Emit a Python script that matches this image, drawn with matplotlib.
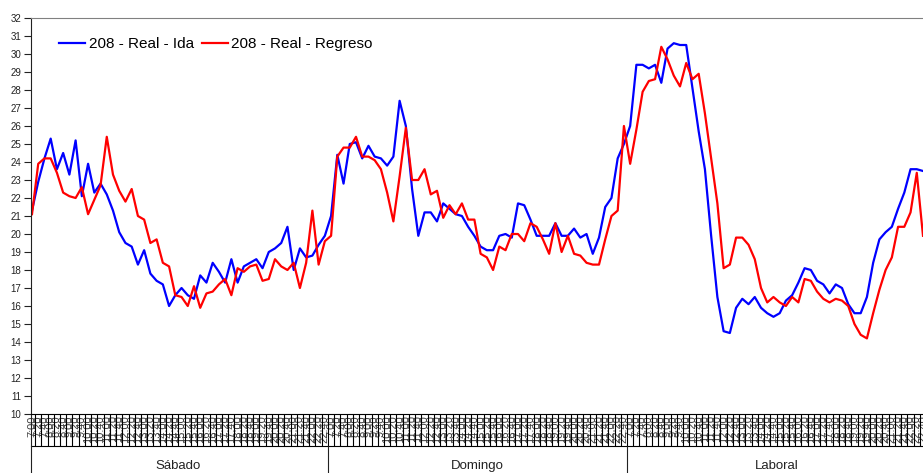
import numpy as np
import matplotlib
matplotlib.use('Agg')
import matplotlib.pyplot as plt
import matplotlib.transforms as mtransforms
from matplotlib.lines import Line2D

plt.rcParams['font.family'] = ['Liberation Sans', 'DejaVu Sans']

days = ['Sábado', 'Domingo', 'Laboral']
# time slots of 20 minutes, 7:00 .. 22:40
times = ['%d:%02d' % (7 + m // 60, m % 60) for m in range(0, 16 * 60, 20)]

ida_sabado = [21.3, 22.9, 24.2, 25.3, 23.6, 24.5, 23.3, 25.2, 22.1, 23.9, 22.3, 22.8,
              22.2, 21.3, 20.1, 19.5, 19.3, 18.3, 19.1, 17.8, 17.4, 17.2, 16.0, 16.6,
              17.0, 16.6, 16.4, 17.7, 17.3, 18.4, 17.9, 17.3, 18.6, 17.3, 18.2, 18.4,
              18.6, 18.1, 19.0, 19.2, 19.5, 20.4, 18.0, 19.2, 18.7, 18.8, 19.4, 19.9]
ida_domingo = [21.0, 24.4, 22.8, 25.0, 25.1, 24.2, 24.9, 24.3, 24.2, 23.8, 24.3, 27.4,
               26.0, 22.5, 19.9, 21.2, 21.2, 20.7, 21.7, 21.4, 21.1, 21.0, 20.4, 19.9,
               19.3, 19.1, 19.1, 19.9, 20.0, 19.8, 21.7, 21.6, 20.8, 19.9, 19.9, 19.9,
               20.6, 19.9, 19.9, 20.3, 19.8, 20.0, 18.9, 19.8, 21.5, 22.0, 24.2, 25.0]
ida_laboral = [26.0, 29.4, 29.4, 29.2, 29.4, 28.4, 30.3, 30.6, 30.5, 30.5, 28.1, 25.7,
               23.6, 19.9, 16.5, 14.6, 14.5, 15.9, 16.4, 16.1, 16.5, 15.9, 15.6, 15.4,
               15.6, 16.3, 16.6, 17.3, 18.1, 18.0, 17.4, 17.2, 16.7, 17.2, 17.0, 16.1,
               15.6, 15.6, 16.5, 18.4, 19.7, 20.1, 20.4, 21.4, 22.3, 23.6, 23.6, 23.5]

regreso_sabado = [21.1, 23.9, 24.2, 24.2, 23.4, 22.3, 22.1, 22.0, 22.6, 21.1, 21.9, 22.7,
                  25.4, 23.3, 22.4, 21.8, 22.5, 21.0, 20.8, 19.5, 19.7, 18.4, 18.2, 16.6,
                  16.5, 16.0, 17.1, 15.9, 16.7, 16.8, 17.2, 17.5, 16.6, 18.1, 17.9, 18.2,
                  18.3, 17.4, 17.5, 18.6, 18.2, 18.0, 18.4, 17.0, 18.4, 21.3, 18.3, 19.6]
regreso_domingo = [19.9, 24.3, 24.8, 24.8, 25.4, 24.3, 24.3, 24.1, 23.6, 22.3, 20.7, 23.2,
                   25.9, 23.0, 23.0, 23.6, 22.2, 22.4, 20.9, 21.6, 21.1, 21.7, 20.8, 20.8,
                   18.9, 18.7, 18.0, 19.3, 19.1, 20.0, 20.0, 19.6, 20.6, 20.4, 19.7, 18.9,
                   20.6, 19.0, 19.9, 18.9, 18.8, 18.4, 18.3, 18.3, 19.7, 21.0, 21.3, 26.0]
regreso_laboral = [23.9, 25.8, 27.9, 28.5, 28.6, 30.4, 29.7, 28.8, 28.2, 29.5, 28.6, 28.9,
                   26.7, 24.2, 21.7, 18.1, 18.3, 19.8, 19.8, 19.4, 18.6, 17.0, 16.2, 16.5,
                   16.2, 16.0, 16.5, 16.2, 17.5, 17.4, 16.8, 16.4, 16.2, 16.4, 16.3, 16.0,
                   15.0, 14.4, 14.2, 15.6, 16.9, 18.0, 18.7, 20.4, 20.4, 21.2, 23.4, 19.9]

ida = ida_sabado + ida_domingo + ida_laboral
regreso = regreso_sabado + regreso_domingo + regreso_laboral
labels = times * len(days)
per_day = len(times)

W, H = 923, 473
fig = plt.figure(figsize=(W / 100, H / 100), dpi=100)
ax = fig.add_axes([31 / W, (H - 414) / H, 1 - 31 / W, (414 - 18) / H])

x = np.arange(len(ida))
ax.plot(x, ida, color='#0000ff', lw=1.6, label='208 - Real - Ida')
ax.plot(x, regreso, color='#ff0000', lw=1.6, label='208 - Real - Regreso')

ax.set_ylim(10, 32)
ax.set_yticks(range(10, 33))
ax.set_xlim(-0.16, 142.33)
ax.set_xticks(x)
ax.set_xticklabels(labels, rotation=90, fontsize=8, color='#404040')
ax.tick_params(axis='x', length=0, pad=1)
ax.tick_params(axis='y', direction='out', length=5, width=0.8, labelsize=7,
               pad=2, colors='#222222')

ax.spines['right'].set_visible(False)
ax.spines['top'].set_color('#808080')
ax.spines['top'].set_linewidth(0.8)
ax.spines['left'].set_color('#222222')
ax.spines['bottom'].set_color('#000000')
for s in ['left', 'bottom']:
    ax.spines[s].set_linewidth(0.8)

# multi-level category axis
trans = mtransforms.blended_transform_factory(ax.transData, ax.transAxes)
box_bottom = -(446 - 414) / 396
fig_bottom = -(H - 414) / 396
ax.vlines(x + 0.5, box_bottom, 0, transform=trans, clip_on=False,
          color='black', lw=0.8)
ax.add_line(Line2D([0, 1], [box_bottom, box_bottom], transform=ax.transAxes,
                   clip_on=False, color='black', lw=0.8))
ax.add_line(Line2D([0, 0], [fig_bottom, 0], transform=ax.transAxes,
                   clip_on=False, color='#222222', lw=0.8))
for k in range(1, len(days)):
    ax.vlines(k * per_day - 0.5, fig_bottom, box_bottom, transform=trans,
              clip_on=False, color='#222222', lw=0.8)
for k, day in enumerate(days):
    ax.text(k * per_day + (per_day - 1) / 2, -(466 - 414) / 396, day,
            transform=trans, ha='center', va='center', fontsize=9.5,
            color='#222222')

ax.legend(loc='center left', bbox_to_anchor=((59 - 31) / 892, (414 - 44) / 396),
          ncol=2, frameon=False, fontsize=11, borderpad=0, borderaxespad=0,
          handlelength=1.7, handletextpad=0.25, columnspacing=0.5)

fig.savefig('out.png', dpi=100)
